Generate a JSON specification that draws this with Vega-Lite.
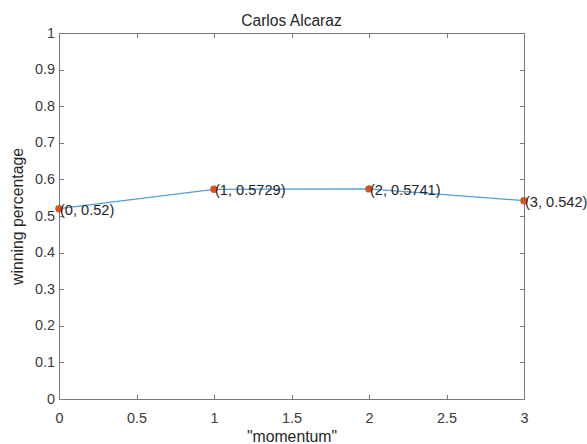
{
  "$schema": "https://vega.github.io/schema/vega-lite/v6.json",
  "width": 465,
  "height": 366,
  "autosize": {"type": "none"},
  "padding": {"left": 59, "top": 33, "right": 63, "bottom": 45},
  "background": "white",
  "title": {"text": "Carlos Alcaraz", "fontSize": 15.6, "fontWeight": "normal", "font": "Liberation Sans", "color": "#262626", "offset": -5},
  "config": {
    "view": {"stroke": null},
    "axis": {
      "domainColor": "#7a7a7a",
      "domainWidth": 1,
      "tickColor": "#7a7a7a",
      "tickSize": -4.5,
      "tickWidth": 1,
      "grid": false,
      "labelFont": "Liberation Sans",
      "labelFontSize": 14.4,
      "labelColor": "#3a3a3a",
      "titleFont": "Liberation Sans",
      "titleFontSize": 15.8,
      "titleFontWeight": "normal",
      "titleColor": "#262626"
    }
  },
  "data": {
    "values": [
      {"x": 0, "y": 0.52, "label": "(0, 0.52)"},
      {"x": 1, "y": 0.5729, "label": "(1, 0.5729)"},
      {"x": 2, "y": 0.5741, "label": "(2, 0.5741)"},
      {"x": 3, "y": 0.542, "label": "(3, 0.542)"}
    ]
  },
  "layer": [
    {
      "mark": {"type": "line", "color": "#4FA0D8", "strokeWidth": 1.2},
      "encoding": {
        "x": {"field": "x", "type": "quantitative", "scale": {"domain": [0, 3], "nice": false, "zero": false},
              "axis": {"orient": "bottom", "values": [0, 0.5, 1, 1.5, 2, 2.5, 3], "format": "~g", "title": "\"momentum\"", "labelPadding": 17, "titlePadding": 5, "labelFlush": false}},
        "y": {"field": "y", "type": "quantitative", "scale": {"domain": [0, 1], "nice": false},
              "axis": {"orient": "left", "values": [0, 0.1, 0.2, 0.3, 0.4, 0.5, 0.6, 0.7, 0.8, 0.9, 1], "format": "~g", "title": "winning percentage", "labelPadding": 9, "titlePadding": 9, "labelFlush": false}}
      }
    },
    {
      "mark": {"type": "point", "filled": true, "color": "#D95319", "size": 55, "opacity": 1},
      "encoding": {
        "x": {"field": "x", "type": "quantitative", "axis": null},
        "y": {"field": "y", "type": "quantitative", "axis": null}
      }
    },
    {
      "mark": {"type": "text", "align": "left", "baseline": "middle", "dx": 1, "dy": 2, "font": "Liberation Sans", "fontSize": 14.6, "color": "#262626"},
      "encoding": {
        "x": {"field": "x", "type": "quantitative", "axis": null},
        "y": {"field": "y", "type": "quantitative", "axis": null},
        "text": {"field": "label"}
      }
    },
    {
      "mark": {"type": "point", "opacity": 0},
      "encoding": {
        "x": {"field": "x", "type": "quantitative",
              "axis": {"orient": "top", "values": [0, 0.5, 1, 1.5, 2, 2.5, 3], "labels": false, "title": null}},
        "y": {"field": "y", "type": "quantitative",
              "axis": {"orient": "right", "values": [0, 0.1, 0.2, 0.3, 0.4, 0.5, 0.6, 0.7, 0.8, 0.9, 1], "labels": false, "title": null}}
      }
    }
  ],
  "resolve": {"axis": {"x": "independent", "y": "independent"}}
}
